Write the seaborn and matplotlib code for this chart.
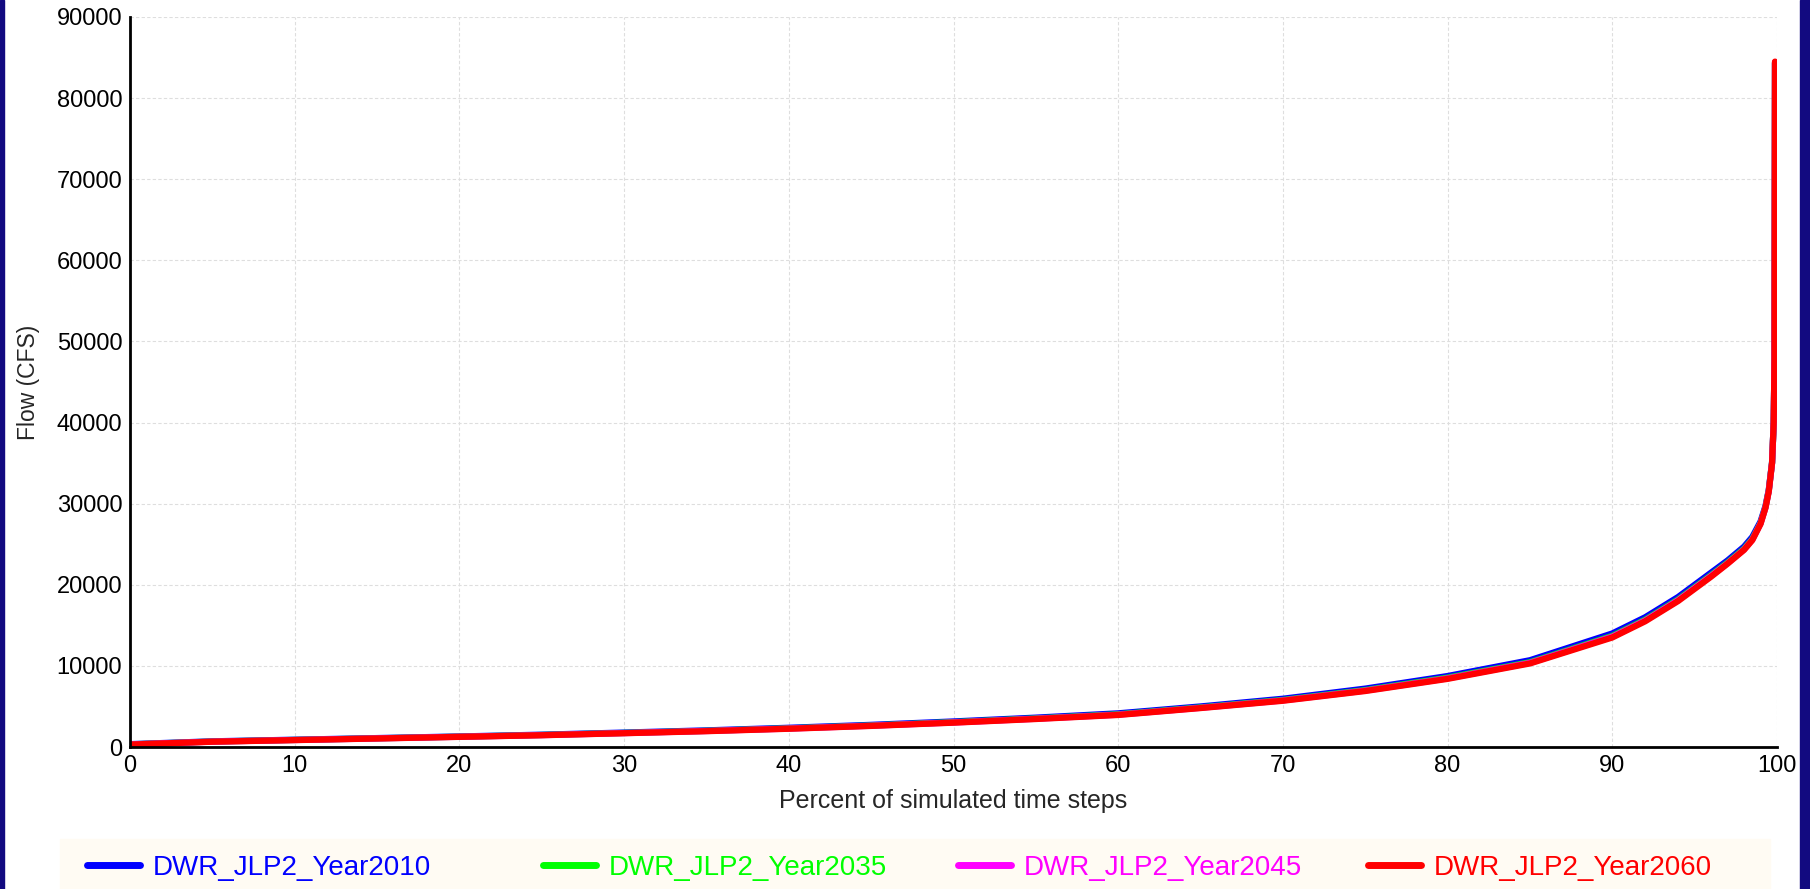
import numpy as np
import pandas as pd
import matplotlib
matplotlib.use("Agg")
import matplotlib.pyplot as plt
import seaborn as sns
from matplotlib.patches import Rectangle
from matplotlib.ticker import MultipleLocator

# ==========================
# Data
# ==========================
pct = [0, 5, 10, 15, 20, 25, 30, 35, 40, 45, 50, 55, 60, 65, 70, 75,
       80, 85, 90, 92, 94, 95, 96, 97, 98, 98.5, 99, 99.3, 99.5, 99.7,
       99.8, 99.85, 99.88]

flow_2010 = [350, 700, 900, 1100, 1300, 1520, 1780, 2050, 2370, 2730, 3150,
             3620, 4150, 5000, 5950, 7200, 8750, 10700, 14000, 16000, 18500,
             20000, 21500, 23000, 24700, 25900, 27800, 29700, 31700, 35100,
             40000, 48000, 84300]
flow_2035 = [320, 670, 870, 1070, 1270, 1480, 1730, 1990, 2300, 2650, 3060,
             3520, 4030, 4880, 5800, 7020, 8550, 10450, 13700, 15700, 18200,
             19700, 21200, 22750, 24450, 25650, 27600, 29550, 31600, 35050,
             40000, 48000, 84400]
flow_2045 = [310, 660, 860, 1060, 1260, 1460, 1710, 1970, 2270, 2620, 3020,
             3480, 3980, 4830, 5740, 6950, 8460, 10370, 13600, 15600, 18100,
             19600, 21100, 22650, 24350, 25550, 27550, 29500, 31550, 35000,
             40000, 48000, 84450]
flow_2060 = [300, 650, 850, 1050, 1250, 1450, 1700, 1950, 2250, 2600, 3000,
             3450, 3950, 4800, 5700, 6900, 8400, 10300, 13500, 15500, 18000,
             19500, 21000, 22600, 24300, 25500, 27500, 29500, 31500, 35000,
             40000, 48000, 84500]

series = ["DWR_JLP2_Year2010", "DWR_JLP2_Year2035",
          "DWR_JLP2_Year2045", "DWR_JLP2_Year2060"]
colors = ["#0000FF", "#00FF00", "#FF00FF", "#FF0000"]

df = pd.concat([
    pd.DataFrame({"Percent": pct, "Flow": vals, "Series": name})
    for name, vals in zip(series, [flow_2010, flow_2035, flow_2045, flow_2060])
])

# ==========================
# Style
# ==========================
sns.set_style("white")
plt.rcParams["font.family"] = ["Liberation Sans", "DejaVu Sans"]

fig = plt.figure(figsize=(18.1, 8.89), dpi=100)
fig.patch.set_facecolor("white")

# navy slide edges and cream legend strip
fig.patches.append(Rectangle((0, 0), 4 / 1810, 1, transform=fig.transFigure,
                             color="#120A80", zorder=0))
fig.patches.append(Rectangle((1800 / 1810, 0), 10 / 1810, 1,
                             transform=fig.transFigure, color="#120A80", zorder=0))
fig.patches.append(Rectangle((60 / 1810, 0), 1710 / 1810, 50 / 889,
                             transform=fig.transFigure, color="#FFFBF3", zorder=0))

ax = fig.add_axes([130 / 1810, 142 / 889, 1647 / 1810, 730 / 889])

sns.lineplot(
    data=df,
    x="Percent",
    y="Flow",
    hue="Series",
    palette=colors,
    linewidth=4.5,
    sort=False,
    legend=False,
    ax=ax
)

ax.set_xlim(0, 100)
ax.set_ylim(0, 90000)
ax.xaxis.set_major_locator(MultipleLocator(10))
ax.xaxis.set_minor_locator(MultipleLocator(5))
ax.yaxis.set_major_locator(MultipleLocator(10000))
ax.yaxis.set_minor_locator(MultipleLocator(5000))

ax.grid(True, which="major", color="#DEDEDE", linestyle=(0, (3, 2)), linewidth=0.8)
ax.set_axisbelow(True)

for side in ["top", "right"]:
    ax.spines[side].set_visible(False)
for side in ["left", "bottom"]:
    ax.spines[side].set_color("black")
    ax.spines[side].set_linewidth(2)

ax.tick_params(which="both", direction="inout", length=7, width=2,
               color="black", labelsize=17, pad=2, labelcolor="black")

ax.set_xlabel("Percent of simulated time steps", fontsize=18, labelpad=9)
ax.set_ylabel("Flow (CFS)", fontsize=16.5)
ax.yaxis.set_label_coords(-0.0545, 0.5)

# ==========================
# Legend (one entry per slot, as in the reference)
# ==========================
slots = [87, 543, 958, 1368]
for name, c, x0 in zip(series, colors, slots):
    leg = fig.legend(
        [plt.Line2D([], [], color=c, linewidth=5)],
        [name],
        loc="center left",
        bbox_to_anchor=(x0 / 1810, 21 / 889),
        frameon=False,
        fontsize=20,
        handlelength=1.9,
        handletextpad=0.45,
        borderpad=0,
        borderaxespad=0,
        labelcolor="linecolor"
    )

plt.savefig("out.png", dpi=100)
